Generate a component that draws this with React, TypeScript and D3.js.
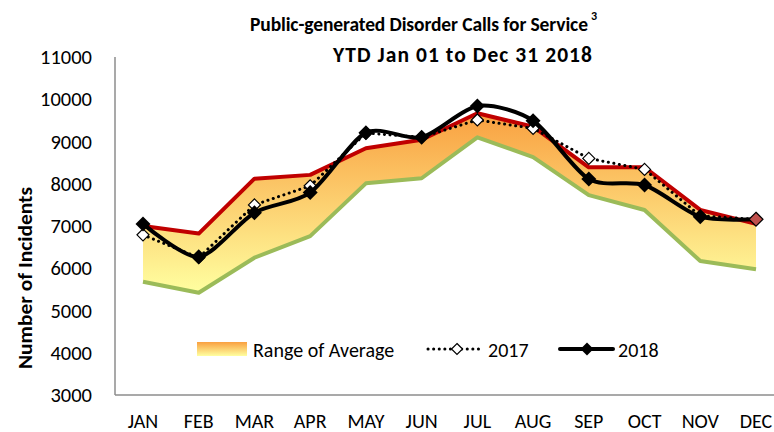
import * as d3 from 'd3';

const months = ['JAN', 'FEB', 'MAR', 'APR', 'MAY', 'JUN', 'JUL', 'AUG', 'SEP', 'OCT', 'NOV', 'DEC'];
const rangeHigh = [7000, 6820, 8120, 8210, 8840, 9040, 9670, 9350, 8390, 8390, 7380, 7050];
const rangeLow = [5680, 5420, 6250, 6760, 8010, 8130, 9100, 8630, 7730, 7380, 6170, 5975];
const calls2017 = [6790, 6250, 7500, 7950, 9200, 9100, 9510, 9310, 8600, 8340, 7240, 7160];
const calls2018 = [7050, 6270, 7315, 7790, 9210, 9100, 9840, 9490, 8110, 7970, 7220, 7160];
const yTicks = [3000, 4000, 5000, 6000, 7000, 8000, 9000, 10000, 11000];

const W = 774;
const H = 432;
const font = "Carlito, Calibri, Lato, sans-serif";

const x = d3.scalePoint<string>().domain(months).range([143, 756]);
const y = d3.scaleLinear().domain([3000, 11000]).range([395, 57]);

const diamond = (cx: number, cy: number, r: number) =>
  `M${cx},${cy - r}L${cx + r},${cy}L${cx},${cy + r}L${cx - r},${cy}Z`;

export default function App() {
  const idx = months.map((_, i) => i);

  const area = d3.area<number>()
    .x(i => x(months[i])!)
    .y0(i => y(rangeLow[i]))
    .y1(i => y(rangeHigh[i]));

  const straight = (vals: number[]) => d3.line<number>()
    .x(i => x(months[i])!)
    .y(i => y(vals[i]))(idx)!;

  const smooth = d3.line<number>()
    .x(i => x(months[i])!)
    .y(i => y(calls2018[i]))
    .curve(d3.curveCardinal.tension(0.2))(idx)!;

  return (
    <svg width={W} height={H} style={{ position: 'absolute', left: 0, top: 0 }} fontFamily={font}>
      <defs>
        <linearGradient id="rangeFill" x1="0" y1="0" x2="0" y2="1">
          <stop offset="0%" stopColor="#f9a040" />
          <stop offset="100%" stopColor="#ffffa0" />
        </linearGradient>
      </defs>
      <rect width={W} height={H} fill="#fff" />

      {/* title */}
      <text x={250} y={31} fontWeight="bold" fontSize={19.5} fill="#000" textLength={338} lengthAdjust="spacing">
        Public-generated Disorder Calls for Service
      </text>
      <text x={591} y={20} fontWeight="bold" fontSize={12} fill="#000">3</text>
      <text x={333} y={62} fontWeight="bold" fontSize={21.5} fill="#000" textLength={259} lengthAdjust="spacing">
        YTD Jan 01 to Dec 31 2018
      </text>

      {/* axes */}
      <line x1={115} x2={115} y1={57} y2={395} stroke="#8c8c8c" strokeWidth={1.5} />
      <line x1={115} x2={W} y1={395} y2={395} stroke="#8c8c8c" strokeWidth={1.5} />
      {yTicks.map(t => (
        <text key={t} x={92} y={y(t) + 7} textAnchor="end" fontSize={20.5} fill="#000">{t}</text>
      ))}
      {months.map(m => (
        <text key={m} x={x(m)} y={428} textAnchor="middle" fontSize={20} fill="#000">{m}</text>
      ))}
      <text transform="translate(32,278) rotate(-90)" textAnchor="middle" fontWeight="bold" fontSize={20}
        fill="#000" textLength={182} lengthAdjust="spacingAndGlyphs">
        Number of Incidents
      </text>

      {/* range of average */}
      <path d={area(idx)!} fill="url(#rangeFill)" />
      <path d={straight(rangeHigh)} fill="none" stroke="#c00000" strokeWidth={4} strokeLinejoin="round" />
      <path d={straight(rangeLow)} fill="none" stroke="#9bbb59" strokeWidth={4} strokeLinejoin="round" />

      {/* 2017 */}
      <path d={straight(calls2017)} fill="none" stroke="#000" strokeWidth={3} strokeDasharray="0.1 5.5" strokeLinecap="round" />
      {months.slice(0, 11).map((m, i) => (
        <path key={m} d={diamond(x(m)!, y(calls2017[i]), 6)} fill="#fff" stroke="#000" strokeWidth={1.2} />
      ))}

      {/* 2018 */}
      <path d={smooth} fill="none" stroke="#000" strokeWidth={4} />
      {months.slice(0, 11).map((m, i) => (
        <path key={m} d={diamond(x(m)!, y(calls2018[i]), 7.5)} fill="#000" />
      ))}
      <path d={diamond(x('DEC')!, y(calls2018[11]), 7)} fill="#c0504d" stroke="#000" strokeWidth={1.2} />

      {/* legend */}
      <rect x={197} y={342} width={50} height={14} fill="url(#rangeFill)" />
      <text x={253} y={357} fontSize={20} fill="#000">Range of Average</text>
      <line x1={428} x2={483} y1={349} y2={349} stroke="#000" strokeWidth={3} strokeDasharray="0.1 5.5" strokeLinecap="round" />
      <path d={diamond(457, 349, 5.5)} fill="#fff" stroke="#000" strokeWidth={1.2} />
      <text x={488} y={357} fontSize={20} fill="#000">2017</text>
      <line x1={560} x2={613} y1={349} y2={349} stroke="#000" strokeWidth={4} strokeLinecap="round" />
      <path d={diamond(587, 349, 6.5)} fill="#000" />
      <text x={618} y={357} fontSize={20} fill="#000">2018</text>
    </svg>
  );
}
